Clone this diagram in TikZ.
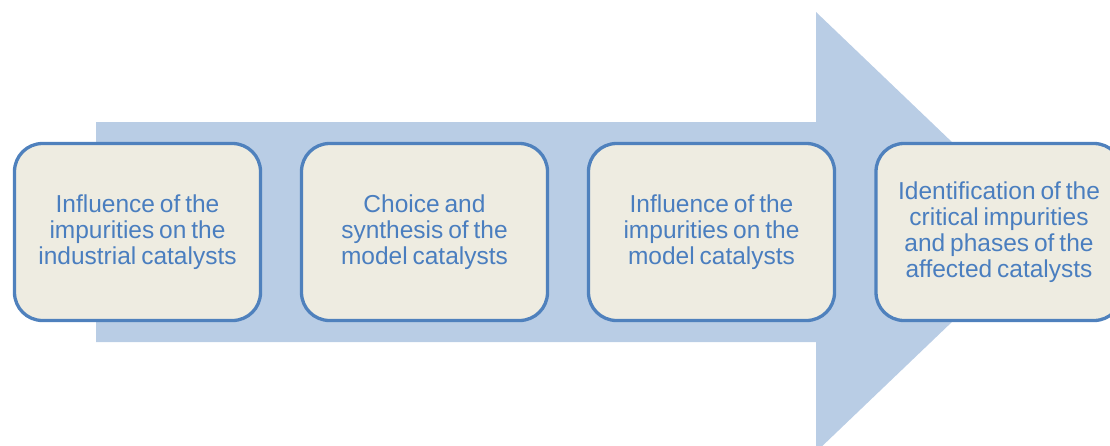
\documentclass[tikz,border=0pt]{standalone}
\usepackage{fontspec}
\setmainfont{Liberation Sans}
\definecolor{arrowblue}{HTML}{B9CDE5}
\definecolor{boxfill}{HTML}{EEECE1}
\definecolor{boxline}{HTML}{4F81BD}
\definecolor{txtblue}{HTML}{4A7EBF}
\newcommand{\myboxfont}{\fontsize{24.5}{26}\selectfont\spaceskip=0.2em plus 0.1em minus 0.02em\relax}
\begin{document}
\begin{tikzpicture}[x=1pt,y=-1pt,
  stepbox/.style={draw=boxline, fill=boxfill, line width=3.3pt, rounded corners=28pt,
    minimum width=246pt, minimum height=177pt, align=center, text=txtblue,
    font=\myboxfont, inner sep=0pt}]
\useasboundingbox (0,0) rectangle (1110,445);
\clip (0,0) rectangle (1110,445);
\fill[arrowblue] (96,122) -- (816,122) -- (816,12) -- (1046,232) -- (816,452) -- (816,342) -- (96,342) -- cycle;
\node[stepbox] (s1) at (137.5,232) {Influence of the\\impurities on the\\industrial catalysts};
\node[stepbox] (s2) at (424.5,232) {Choice and\\synthesis of the\\model catalysts};
\node[stepbox] (s3) at (711.5,232) {Influence of the\\impurities on the\\model catalysts};
\node[stepbox] (s4) at (999,232) {Identification of the\\critical impurities\\and phases of the\\affected catalysts};
\end{tikzpicture}
\end{document}
